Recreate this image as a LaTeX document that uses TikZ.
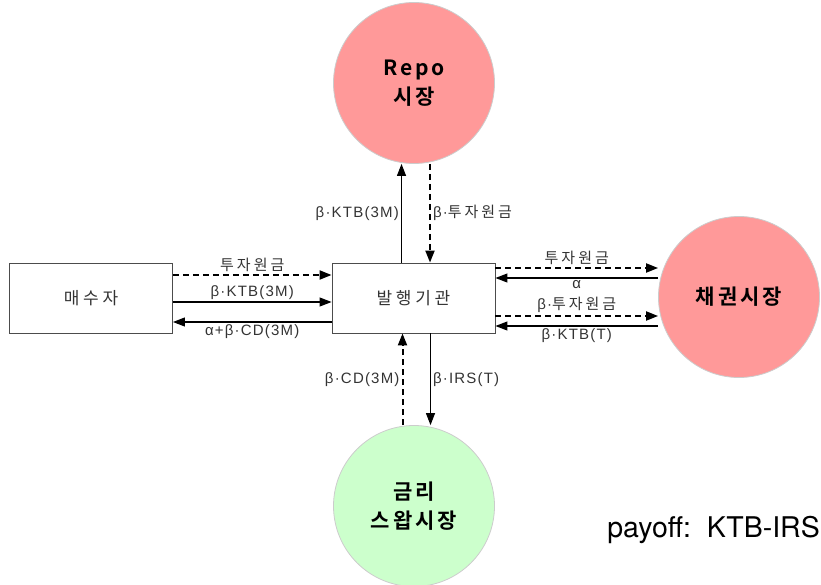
\documentclass[tikz,border=0pt]{standalone}
\usepackage{fontspec}
\usetikzlibrary{arrows.meta,positioning}
\setmainfont{Noto Sans CJK KR}
\newfontfamily\krfont[LetterSpace=20]{Noto Sans CJK KR}
\newfontfamily\latfont[LetterSpace=8]{Liberation Sans}
\newfontfamily\boxfont[LetterSpace=22]{Noto Sans CJK KR}
\newfontfamily\mktfont[LetterSpace=14]{Noto Sans CJK KR Bold}
\newfontfamily\payfont{TeX Gyre Heros}
\newcommand*{\kr}[1]{{\krfont\fontsize{15}{17}\selectfont #1}}
\definecolor{repopink}{HTML}{FF9999}
\definecolor{swapgreen}{HTML}{CCFFCC}
\definecolor{txtgray}{HTML}{333333}
\tikzset{
  party/.style={draw=black!70,line width=0.9pt,minimum width=163pt,minimum height=70pt,
    font=\boxfont\fontsize{17}{19}\selectfont,text=txtgray},
  market/.style={circle,draw=black!20,line width=0.8pt,minimum size=161pt,inner sep=0pt,
    align=center,font=\mktfont\fontsize{21}{29}\selectfont},
  flow/.style={line width=1.1pt,-{Triangle[length=12pt,width=9pt]}},
  cash/.style={flow,line width=2pt,dash pattern=on 6pt off 4pt},
  lbl/.style={font=\latfont\fontsize{15}{17}\selectfont,text=txtgray,inner sep=2pt}
}
\begin{document}
\begin{tikzpicture}[x=1pt,y=-1pt]
\useasboundingbox (0,0) rectangle (821,585);
% parties
\node[party] (buyer)  at (91,298) {매수자};
\node[party] (issuer) at (413.5,298) {발행기관};
% markets
\node[market,fill=repopink]  (repo) at (414,83)  {Repo\\시장};
\node[market,fill=repopink]  (bond) at (739,297) {채권시장};
\node[market,fill=swapgreen] (swap) at (414,506) {금리\\스왑시장};

% buyer <-> issuer
\draw[cash] ([yshift=23pt]buyer.east) -- node[lbl,above]{\kr{투자원금}} ([yshift=23pt]issuer.west);
\draw[flow] ([yshift=-4pt]buyer.east) -- node[lbl,above]{β·KTB(3M)} ([yshift=-4pt]issuer.west);
\draw[flow] ([yshift=-24pt]issuer.west) -- node[lbl,below]{α+β·CD(3M)} ([yshift=-24pt]buyer.east);

% issuer <-> bond market
\draw[cash] ([yshift=30pt]issuer.east) -- node[lbl,above]{\kr{투자원금}} ([yshift=30pt]issuer.east -| bond.west);
\draw[flow] ([yshift=20pt]issuer.east -| bond.west) -- node[lbl,below]{α} ([yshift=20pt]issuer.east);
\draw[cash] ([yshift=-18pt]issuer.east) -- node[lbl,above]{β·\kr{투자원금}} ([yshift=-18pt]issuer.east -| bond.west);
\draw[flow] ([yshift=-28pt]issuer.east -| bond.west) -- node[lbl,below]{β·KTB(T)} ([yshift=-28pt]issuer.east);

% issuer <-> repo
\draw[flow] ([xshift=-12pt]issuer.north) -- node[lbl,left]{β·KTB(3M)} ([xshift=-12pt]issuer.north |- repo.south);
\draw[cash] ([xshift=16.5pt]issuer.north |- repo.south) -- node[lbl,right]{β·\kr{투자원금}} ([xshift=16.5pt]issuer.north);

% issuer <-> swap
\draw[cash] ([xshift=-11pt]issuer.south |- swap.north) -- node[lbl,left]{β·CD(3M)} ([xshift=-11pt]issuer.south);
\draw[flow] ([xshift=17pt]issuer.south) -- node[lbl,right]{β·IRS(T)} ([xshift=17pt]issuer.south |- swap.north);

\node[font=\payfont\fontsize{28.5}{30}\selectfont,anchor=east,inner sep=0pt] (payoff) at (820,530) {payoff:\ \ KTB-IRS};
\end{tikzpicture}
\end{document}
